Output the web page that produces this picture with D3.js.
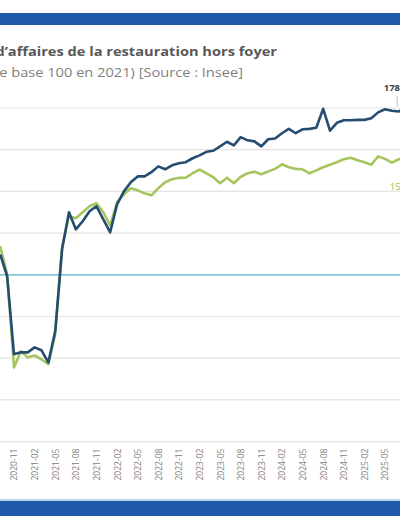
<!DOCTYPE html>
<html>
<head>
<meta charset="utf-8">
<script src="https://cdn.jsdelivr.net/npm/d3@7"></script>
<style>
  html, body { margin: 0; padding: 0; background: #fff; }
  svg { display: block; }
</style>
</head>
<body>
<div id="chart"></div>
<script>
// monthly series, first point = 2020-09
var months = [
  "2020-09","2020-10","2020-11","2020-12","2021-01","2021-02","2021-03","2021-04","2021-05","2021-06","2021-07","2021-08",
  "2021-09","2021-10","2021-11","2021-12","2022-01","2022-02","2022-03","2022-04","2022-05","2022-06","2022-07","2022-08",
  "2022-09","2022-10","2022-11","2022-12","2023-01","2023-02","2023-03","2023-04","2023-05","2023-06","2023-07","2023-08",
  "2023-09","2023-10","2023-11","2023-12","2024-01","2024-02","2024-03","2024-04","2024-05","2024-06","2024-07","2024-08",
  "2024-09","2024-10","2024-11","2024-12","2025-01","2025-02","2025-03","2025-04","2025-05","2025-06","2025-07","2025-08"
];

// dark blue line
var caValeur = [
  109.8, 99.3, 61.9, 62.8, 62.8, 65.2, 63.8, 58.0, 72.9, 112.2, 130.0, 121.8,
  125.7, 130.5, 132.9, 126.6, 120.4, 133.8, 140.0, 144.4, 147.2, 147.2, 149.2, 152.0,
  150.6, 152.5, 153.5, 154.0, 155.9, 157.3, 159.0, 159.5, 161.6, 163.8, 162.1, 166.0,
  164.5, 164.0, 161.6, 165.0, 165.4, 167.9, 170.0, 167.9, 169.8, 170.0, 170.5, 179.6,
  169.1, 172.9, 174.1, 174.1, 174.3, 174.3, 175.1, 177.9, 179.4, 178.7, 178.3, 180.3
];

// green line
var caVolume = [
  113.7, 100.2, 55.6, 63.3, 60.4, 61.3, 59.5, 57.1, 71.5, 113.7, 128.1, 127.1,
  130.0, 132.9, 134.3, 130.0, 123.7, 134.8, 138.6, 141.5, 140.5, 139.1, 138.1, 141.5,
  144.4, 145.8, 146.5, 146.6, 148.7, 150.4, 148.7, 146.8, 143.9, 146.5, 143.9, 147.0,
  148.7, 149.4, 148.2, 149.6, 150.8, 153.0, 151.6, 150.8, 150.6, 148.7, 150.1, 151.6,
  152.8, 154.0, 155.4, 156.1, 154.9, 154.0, 152.8, 156.8, 155.6, 153.8, 155.4, 156.5
];

var tickLabels = [
  "2020-11","2021-02","2021-05","2021-08","2021-11","2022-02","2022-05","2022-08","2022-11","2023-02",
  "2023-05","2023-08","2023-11","2024-02","2024-05","2024-08","2024-11","2025-02","2025-05","2025-08"
];
var gridValues = [20, 40, 60, 80, 120, 140, 160, 180];
var baseValue = 100;
var labelMonth = "2025-07";

var title = "Évolution du chiffre d’affaires de la restauration hors foyer";
var subtitle = "(indice de base 100 en 2021) [Source : Insee]";

var W = 400, H = 516;

var svg = d3.select("#chart").append("svg")
    .attr("width", W)
    .attr("height", H);

// frame bars
svg.append("rect").attr("x", 0).attr("y", 13).attr("width", W).attr("height", 12).attr("fill", "#1f58a8");
svg.append("rect").attr("x", 0).attr("y", 499).attr("width", W).attr("height", 2).attr("fill", "#bcd3ee");
svg.append("rect").attr("x", 0).attr("y", 501).attr("width", W).attr("height", 15).attr("fill", "#1f58a8");

// titles (cut by the left edge, like the source crop) - source text is a bit stretched
svg.append("text")
    .attr("transform", "translate(277,56) scale(1.17,1)")
    .attr("text-anchor", "end")
    .style("font-family", "'Open Sans', sans-serif")
    .style("font-weight", "bold")
    .style("font-size", "12.5px")
    .attr("fill", "#595959")
    .text(title);

svg.append("text")
    .attr("transform", "translate(243,77) scale(1.17,1)")
    .attr("text-anchor", "end")
    .style("font-family", "'Open Sans', sans-serif")
    .style("font-size", "12.5px")
    .attr("fill", "#7f7f7f")
    .text(subtitle);

var x = d3.scaleLinear()
    .domain([0, months.length - 1])
    .range([0.26, 0.26 + 6.87 * (months.length - 1)]);

var y = d3.scaleLinear()
    .domain([20, 180])
    .range([441.6, 108]);

// gridlines
svg.append("g").selectAll("line")
    .data(gridValues)
    .enter()
    .append("line")
      .attr("x1", 0).attr("x2", W)
      .attr("y1", function(d) { return y(d); })
      .attr("y2", function(d) { return y(d); })
      .attr("stroke", "#e3e3e3")
      .attr("stroke-width", 1.2);

svg.append("line")
    .attr("x1", 0).attr("x2", W)
    .attr("y1", y(baseValue)).attr("y2", y(baseValue))
    .attr("stroke", "#4fb3c8")
    .attr("stroke-width", 1.2);

// x axis, rotated labels
var xAxis = d3.axisBottom(x)
    .tickValues(tickLabels.map(function(t) { return months.indexOf(t) >= 0 ? months.indexOf(t) : months.length + 2; }))
    .tickFormat(function(d, i) { return tickLabels[i]; })
    .tickSize(0);

var gx = svg.append("g")
    .attr("transform", "translate(0," + y(20) + ")")
    .call(xAxis);
gx.select(".domain").remove();
gx.selectAll("text")
    .attr("transform", "rotate(-90)")
    .attr("text-anchor", "end")
    .attr("x", -7)
    .attr("y", 0)
    .attr("dy", "0.35em")
    .style("font-family", "'Open Sans', sans-serif")
    .style("font-size", "8.5px")
    .attr("fill", "#808080");

var line = d3.line()
    .x(function(d, i) { return x(i); })
    .y(function(d) { return y(d); });

svg.append("path")
    .datum(caVolume)
    .attr("d", line)
    .attr("fill", "none")
    .attr("stroke", "#a5c55e")
    .attr("stroke-width", 2.6)
    .attr("stroke-linejoin", "round");

svg.append("path")
    .datum(caValeur)
    .attr("d", line)
    .attr("fill", "none")
    .attr("stroke", "#254c71")
    .attr("stroke-width", 2.6)
    .attr("stroke-linejoin", "round");

// end labels
var li = months.indexOf(labelMonth);

svg.append("line")
    .attr("x1", x(li) - 1.5).attr("x2", x(li) - 1.5)
    .attr("y1", y(caValeur[li]) - 15).attr("y2", y(caValeur[li]) - 5)
    .attr("stroke", "#b0b0b0")
    .attr("stroke-width", 0.8);

svg.append("text")
    .attr("x", x(li) - 15).attr("y", y(caValeur[li]) - 21)
    .style("font-family", "'Open Sans', sans-serif")
    .style("font-weight", "bold")
    .style("font-size", "9.5px")
    .attr("fill", "#404040")
    .text(Math.round(caValeur[li]));

svg.append("text")
    .attr("x", x(li) - 9).attr("y", y(caVolume[li]) + 31)
    .style("font-family", "'Open Sans', sans-serif")
    .style("font-size", "9.5px")
    .attr("fill", "#9bbb59")
    .text(Math.round(caVolume[li]));
</script>
</body>
</html>
